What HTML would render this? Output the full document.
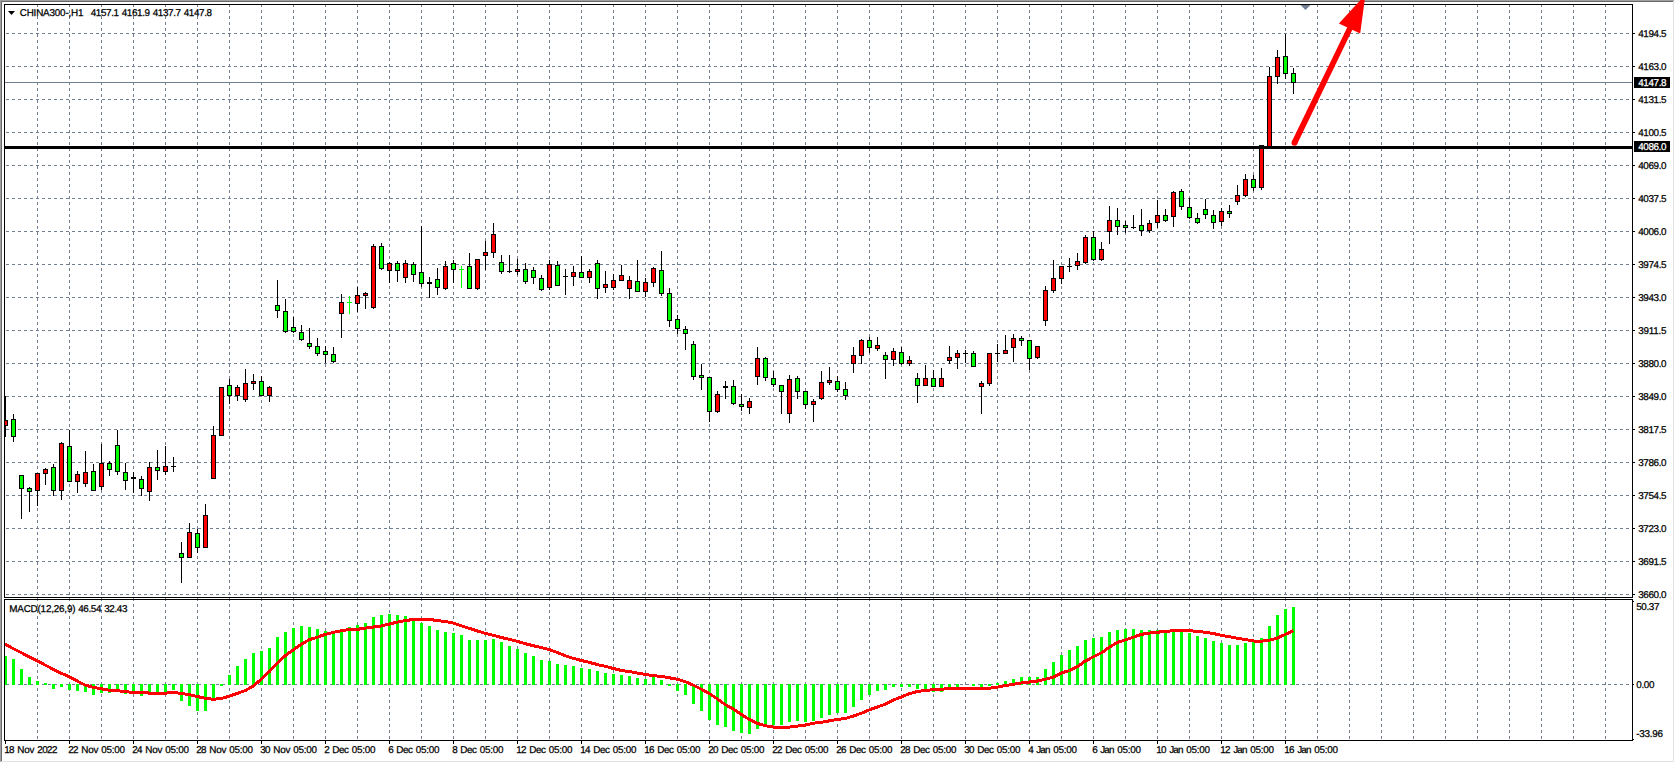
<!DOCTYPE html>
<html lang="en"><head><meta charset="utf-8"><title>CHINA300-,H1</title>
<style>html,body{margin:0;padding:0;background:#fff;overflow:hidden}svg{display:block}text{text-rendering:geometricPrecision;font-family:"Liberation Sans",sans-serif;font-size:9.9px;fill:#000;stroke:#000;stroke-width:0.25px}.w{fill:#fff;stroke:#fff}</style></head><body>
<svg width="1675" height="763" viewBox="0 0 1675 763">
<rect width="1675" height="763" fill="#fff"/>
<g shape-rendering="crispEdges">
<rect x="0" y="0" width="1674" height="1" fill="#a0a0a0"/>
<rect x="0" y="0" width="1" height="762" fill="#a0a0a0"/>
<rect x="1" y="1" width="1672" height="1" fill="#696969"/>
<rect x="1" y="1" width="1" height="760" fill="#696969"/>
<rect x="1673" y="1" width="1" height="761" fill="#e3e3e3"/>
<rect x="1" y="761" width="1673" height="1" fill="#e3e3e3"/>
<g stroke="#708090" stroke-width="1" stroke-dasharray="3 3" fill="none">
<line x1="37.5" y1="4" x2="37.5" y2="740"/>
<line x1="69.5" y1="4" x2="69.5" y2="740"/>
<line x1="101.5" y1="4" x2="101.5" y2="740"/>
<line x1="133.5" y1="4" x2="133.5" y2="740"/>
<line x1="165.5" y1="4" x2="165.5" y2="740"/>
<line x1="197.5" y1="4" x2="197.5" y2="740"/>
<line x1="229.5" y1="4" x2="229.5" y2="740"/>
<line x1="261.5" y1="4" x2="261.5" y2="740"/>
<line x1="293.5" y1="4" x2="293.5" y2="740"/>
<line x1="325.5" y1="4" x2="325.5" y2="740"/>
<line x1="357.5" y1="4" x2="357.5" y2="740"/>
<line x1="389.5" y1="4" x2="389.5" y2="740"/>
<line x1="421.5" y1="4" x2="421.5" y2="740"/>
<line x1="453.5" y1="4" x2="453.5" y2="740"/>
<line x1="485.5" y1="4" x2="485.5" y2="740"/>
<line x1="517.5" y1="4" x2="517.5" y2="740"/>
<line x1="549.5" y1="4" x2="549.5" y2="740"/>
<line x1="581.5" y1="4" x2="581.5" y2="740"/>
<line x1="613.5" y1="4" x2="613.5" y2="740"/>
<line x1="645.5" y1="4" x2="645.5" y2="740"/>
<line x1="677.5" y1="4" x2="677.5" y2="740"/>
<line x1="709.5" y1="4" x2="709.5" y2="740"/>
<line x1="741.5" y1="4" x2="741.5" y2="740"/>
<line x1="773.5" y1="4" x2="773.5" y2="740"/>
<line x1="805.5" y1="4" x2="805.5" y2="740"/>
<line x1="837.5" y1="4" x2="837.5" y2="740"/>
<line x1="869.5" y1="4" x2="869.5" y2="740"/>
<line x1="901.5" y1="4" x2="901.5" y2="740"/>
<line x1="933.5" y1="4" x2="933.5" y2="740"/>
<line x1="965.5" y1="4" x2="965.5" y2="740"/>
<line x1="997.5" y1="4" x2="997.5" y2="740"/>
<line x1="1029.5" y1="4" x2="1029.5" y2="740"/>
<line x1="1061.5" y1="4" x2="1061.5" y2="740"/>
<line x1="1093.5" y1="4" x2="1093.5" y2="740"/>
<line x1="1125.5" y1="4" x2="1125.5" y2="740"/>
<line x1="1157.5" y1="4" x2="1157.5" y2="740"/>
<line x1="1189.5" y1="4" x2="1189.5" y2="740"/>
<line x1="1221.5" y1="4" x2="1221.5" y2="740"/>
<line x1="1253.5" y1="4" x2="1253.5" y2="740"/>
<line x1="1285.5" y1="4" x2="1285.5" y2="740"/>
<line x1="1317.5" y1="4" x2="1317.5" y2="740"/>
<line x1="1349.5" y1="4" x2="1349.5" y2="740"/>
<line x1="1381.5" y1="4" x2="1381.5" y2="740"/>
<line x1="1413.5" y1="4" x2="1413.5" y2="740"/>
<line x1="1445.5" y1="4" x2="1445.5" y2="740"/>
<line x1="1477.5" y1="4" x2="1477.5" y2="740"/>
<line x1="1509.5" y1="4" x2="1509.5" y2="740"/>
<line x1="1541.5" y1="4" x2="1541.5" y2="740"/>
<line x1="1573.5" y1="4" x2="1573.5" y2="740"/>
<line x1="1605.5" y1="4" x2="1605.5" y2="740"/>
<line x1="6" y1="33.5" x2="1632" y2="33.5"/>
<line x1="6" y1="66.5" x2="1632" y2="66.5"/>
<line x1="6" y1="99.5" x2="1632" y2="99.5"/>
<line x1="6" y1="132.5" x2="1632" y2="132.5"/>
<line x1="6" y1="165.5" x2="1632" y2="165.5"/>
<line x1="6" y1="198.5" x2="1632" y2="198.5"/>
<line x1="6" y1="231.5" x2="1632" y2="231.5"/>
<line x1="6" y1="264.5" x2="1632" y2="264.5"/>
<line x1="6" y1="297.5" x2="1632" y2="297.5"/>
<line x1="6" y1="330.5" x2="1632" y2="330.5"/>
<line x1="6" y1="363.5" x2="1632" y2="363.5"/>
<line x1="6" y1="396.5" x2="1632" y2="396.5"/>
<line x1="6" y1="429.5" x2="1632" y2="429.5"/>
<line x1="6" y1="462.5" x2="1632" y2="462.5"/>
<line x1="6" y1="495.5" x2="1632" y2="495.5"/>
<line x1="6" y1="528.5" x2="1632" y2="528.5"/>
<line x1="6" y1="561.5" x2="1632" y2="561.5"/>
<line x1="6" y1="594.5" x2="1632" y2="594.5"/>
<line x1="6" y1="684.5" x2="1632" y2="684.5"/>
</g>
<rect x="5" y="82" width="1627" height="1" fill="#708090"/>
<polygon points="1300.5,5 1310.5,5 1305.5,10" fill="#708090" shape-rendering="auto"/>
<rect x="5" y="396" width="1" height="41" fill="#000"/>
<rect x="5" y="420" width="3" height="6" fill="#000"/>
<rect x="5" y="421" width="2" height="4" fill="#ff0000"/>
<rect x="13" y="414" width="1" height="28" fill="#000"/>
<rect x="11" y="419" width="5" height="18" fill="#000"/>
<rect x="12" y="420" width="3" height="16" fill="#00ff00"/>
<rect x="21" y="475" width="1" height="44" fill="#000"/>
<rect x="19" y="475" width="5" height="14" fill="#000"/>
<rect x="20" y="476" width="3" height="12" fill="#00ff00"/>
<rect x="29" y="487" width="1" height="25" fill="#000"/>
<rect x="27" y="488" width="5" height="4" fill="#000"/>
<rect x="28" y="489" width="3" height="2" fill="#00ff00"/>
<rect x="37" y="473" width="1" height="33" fill="#000"/>
<rect x="35" y="473" width="5" height="18" fill="#000"/>
<rect x="36" y="474" width="3" height="16" fill="#ff0000"/>
<rect x="45" y="468" width="1" height="17" fill="#000"/>
<rect x="43" y="469" width="5" height="5" fill="#000"/>
<rect x="44" y="470" width="3" height="3" fill="#ff0000"/>
<rect x="53" y="464" width="1" height="32" fill="#000"/>
<rect x="51" y="467" width="5" height="24" fill="#000"/>
<rect x="52" y="468" width="3" height="22" fill="#00ff00"/>
<rect x="61" y="442" width="1" height="58" fill="#000"/>
<rect x="59" y="443" width="5" height="48" fill="#000"/>
<rect x="60" y="444" width="3" height="46" fill="#ff0000"/>
<rect x="69" y="430" width="1" height="52" fill="#000"/>
<rect x="67" y="446" width="5" height="36" fill="#000"/>
<rect x="68" y="447" width="3" height="34" fill="#00ff00"/>
<rect x="77" y="471" width="1" height="22" fill="#000"/>
<rect x="75" y="474" width="5" height="8" fill="#000"/>
<rect x="76" y="475" width="3" height="6" fill="#ff0000"/>
<rect x="85" y="451" width="1" height="36" fill="#000"/>
<rect x="83" y="472" width="5" height="12" fill="#000"/>
<rect x="84" y="473" width="3" height="10" fill="#ff0000"/>
<rect x="93" y="464" width="1" height="27" fill="#000"/>
<rect x="91" y="471" width="5" height="20" fill="#000"/>
<rect x="92" y="472" width="3" height="18" fill="#00ff00"/>
<rect x="101" y="444" width="1" height="46" fill="#000"/>
<rect x="99" y="463" width="5" height="24" fill="#000"/>
<rect x="100" y="464" width="3" height="22" fill="#ff0000"/>
<rect x="109" y="461" width="1" height="15" fill="#000"/>
<rect x="107" y="463" width="5" height="7" fill="#000"/>
<rect x="108" y="464" width="3" height="5" fill="#00ff00"/>
<rect x="117" y="430" width="1" height="45" fill="#000"/>
<rect x="115" y="445" width="5" height="27" fill="#000"/>
<rect x="116" y="446" width="3" height="25" fill="#00ff00"/>
<rect x="125" y="463" width="1" height="27" fill="#000"/>
<rect x="123" y="472" width="5" height="9" fill="#000"/>
<rect x="124" y="473" width="3" height="7" fill="#00ff00"/>
<rect x="133" y="472" width="1" height="21" fill="#000"/>
<rect x="131" y="477" width="5" height="2" fill="#000"/>
<rect x="141" y="476" width="1" height="20" fill="#000"/>
<rect x="139" y="479" width="5" height="10" fill="#000"/>
<rect x="140" y="480" width="3" height="8" fill="#00ff00"/>
<rect x="149" y="462" width="1" height="39" fill="#000"/>
<rect x="147" y="467" width="5" height="25" fill="#000"/>
<rect x="148" y="468" width="3" height="23" fill="#ff0000"/>
<rect x="157" y="450" width="1" height="30" fill="#000"/>
<rect x="155" y="467" width="5" height="4" fill="#000"/>
<rect x="156" y="468" width="3" height="2" fill="#00ff00"/>
<rect x="165" y="446" width="1" height="29" fill="#000"/>
<rect x="163" y="466" width="5" height="6" fill="#000"/>
<rect x="164" y="467" width="3" height="4" fill="#ff0000"/>
<rect x="173" y="457" width="1" height="15" fill="#000"/>
<rect x="171" y="466" width="5" height="1" fill="#000"/>
<rect x="181" y="542" width="1" height="41" fill="#000"/>
<rect x="179" y="553" width="5" height="5" fill="#000"/>
<rect x="180" y="554" width="3" height="3" fill="#00ff00"/>
<rect x="189" y="523" width="1" height="35" fill="#000"/>
<rect x="187" y="532" width="5" height="26" fill="#000"/>
<rect x="188" y="533" width="3" height="24" fill="#ff0000"/>
<rect x="197" y="529" width="1" height="24" fill="#000"/>
<rect x="195" y="533" width="5" height="15" fill="#000"/>
<rect x="196" y="534" width="3" height="13" fill="#00ff00"/>
<rect x="205" y="504" width="1" height="44" fill="#000"/>
<rect x="203" y="515" width="5" height="33" fill="#000"/>
<rect x="204" y="516" width="3" height="31" fill="#ff0000"/>
<rect x="213" y="426" width="1" height="53" fill="#000"/>
<rect x="211" y="435" width="5" height="44" fill="#000"/>
<rect x="212" y="436" width="3" height="42" fill="#ff0000"/>
<rect x="221" y="387" width="1" height="49" fill="#000"/>
<rect x="219" y="387" width="5" height="49" fill="#000"/>
<rect x="220" y="388" width="3" height="47" fill="#ff0000"/>
<rect x="229" y="379" width="1" height="25" fill="#000"/>
<rect x="227" y="385" width="5" height="11" fill="#000"/>
<rect x="228" y="386" width="3" height="9" fill="#00ff00"/>
<rect x="237" y="385" width="1" height="16" fill="#000"/>
<rect x="235" y="387" width="5" height="9" fill="#000"/>
<rect x="236" y="388" width="3" height="7" fill="#ff0000"/>
<rect x="245" y="369" width="1" height="33" fill="#000"/>
<rect x="243" y="383" width="5" height="17" fill="#000"/>
<rect x="244" y="384" width="3" height="15" fill="#ff0000"/>
<rect x="253" y="374" width="1" height="16" fill="#000"/>
<rect x="251" y="381" width="5" height="3" fill="#000"/>
<rect x="252" y="382" width="3" height="1" fill="#ff0000"/>
<rect x="261" y="376" width="1" height="20" fill="#000"/>
<rect x="259" y="381" width="5" height="15" fill="#000"/>
<rect x="260" y="382" width="3" height="13" fill="#00ff00"/>
<rect x="269" y="386" width="1" height="16" fill="#000"/>
<rect x="267" y="387" width="5" height="9" fill="#000"/>
<rect x="268" y="388" width="3" height="7" fill="#ff0000"/>
<rect x="277" y="280" width="1" height="38" fill="#000"/>
<rect x="275" y="305" width="5" height="6" fill="#000"/>
<rect x="276" y="306" width="3" height="4" fill="#00ff00"/>
<rect x="285" y="299" width="1" height="34" fill="#000"/>
<rect x="283" y="311" width="5" height="21" fill="#000"/>
<rect x="284" y="312" width="3" height="19" fill="#00ff00"/>
<rect x="293" y="317" width="1" height="16" fill="#000"/>
<rect x="291" y="327" width="5" height="5" fill="#000"/>
<rect x="292" y="328" width="3" height="3" fill="#00ff00"/>
<rect x="301" y="325" width="1" height="16" fill="#000"/>
<rect x="299" y="332" width="5" height="8" fill="#000"/>
<rect x="300" y="333" width="3" height="6" fill="#00ff00"/>
<rect x="309" y="328" width="1" height="21" fill="#000"/>
<rect x="307" y="343" width="5" height="4" fill="#000"/>
<rect x="308" y="344" width="3" height="2" fill="#00ff00"/>
<rect x="317" y="338" width="1" height="18" fill="#000"/>
<rect x="315" y="346" width="5" height="8" fill="#000"/>
<rect x="316" y="347" width="3" height="6" fill="#00ff00"/>
<rect x="325" y="346" width="1" height="17" fill="#000"/>
<rect x="323" y="351" width="5" height="4" fill="#000"/>
<rect x="324" y="352" width="3" height="2" fill="#00ff00"/>
<rect x="333" y="347" width="1" height="16" fill="#000"/>
<rect x="331" y="354" width="5" height="8" fill="#000"/>
<rect x="332" y="355" width="3" height="6" fill="#00ff00"/>
<rect x="341" y="294" width="1" height="44" fill="#000"/>
<rect x="339" y="302" width="5" height="12" fill="#000"/>
<rect x="340" y="303" width="3" height="10" fill="#ff0000"/>
<rect x="349" y="296" width="1" height="18" fill="#00ff00"/>
<rect x="347" y="302" width="5" height="1" fill="#00ff00"/>
<rect x="357" y="287" width="1" height="25" fill="#000"/>
<rect x="355" y="295" width="5" height="9" fill="#000"/>
<rect x="356" y="296" width="3" height="7" fill="#ff0000"/>
<rect x="365" y="292" width="1" height="17" fill="#000"/>
<rect x="363" y="293" width="5" height="3" fill="#000"/>
<rect x="364" y="294" width="3" height="1" fill="#ff0000"/>
<rect x="373" y="244" width="1" height="65" fill="#000"/>
<rect x="371" y="246" width="5" height="62" fill="#000"/>
<rect x="372" y="247" width="3" height="60" fill="#ff0000"/>
<rect x="381" y="243" width="1" height="27" fill="#000"/>
<rect x="379" y="246" width="5" height="23" fill="#000"/>
<rect x="380" y="247" width="3" height="21" fill="#00ff00"/>
<rect x="389" y="262" width="1" height="21" fill="#000"/>
<rect x="387" y="263" width="5" height="8" fill="#000"/>
<rect x="388" y="264" width="3" height="6" fill="#ff0000"/>
<rect x="397" y="261" width="1" height="21" fill="#000"/>
<rect x="395" y="263" width="5" height="8" fill="#000"/>
<rect x="396" y="264" width="3" height="6" fill="#00ff00"/>
<rect x="405" y="260" width="1" height="23" fill="#000"/>
<rect x="403" y="263" width="5" height="15" fill="#000"/>
<rect x="404" y="264" width="3" height="13" fill="#ff0000"/>
<rect x="413" y="262" width="1" height="20" fill="#000"/>
<rect x="411" y="264" width="5" height="11" fill="#000"/>
<rect x="412" y="265" width="3" height="9" fill="#00ff00"/>
<rect x="421" y="226" width="1" height="61" fill="#000"/>
<rect x="419" y="272" width="5" height="12" fill="#000"/>
<rect x="420" y="273" width="3" height="10" fill="#00ff00"/>
<rect x="429" y="277" width="1" height="21" fill="#000"/>
<rect x="427" y="282" width="5" height="2" fill="#000"/>
<rect x="437" y="268" width="1" height="27" fill="#000"/>
<rect x="435" y="279" width="5" height="9" fill="#000"/>
<rect x="436" y="280" width="3" height="7" fill="#00ff00"/>
<rect x="445" y="261" width="1" height="29" fill="#000"/>
<rect x="443" y="266" width="5" height="23" fill="#000"/>
<rect x="444" y="267" width="3" height="21" fill="#ff0000"/>
<rect x="453" y="260" width="1" height="23" fill="#000"/>
<rect x="451" y="263" width="5" height="7" fill="#000"/>
<rect x="452" y="264" width="3" height="5" fill="#00ff00"/>
<rect x="461" y="266" width="1" height="22" fill="#00ff00"/>
<rect x="459" y="269" width="5" height="1" fill="#00ff00"/>
<rect x="469" y="253" width="1" height="36" fill="#000"/>
<rect x="467" y="266" width="5" height="23" fill="#000"/>
<rect x="468" y="267" width="3" height="21" fill="#00ff00"/>
<rect x="477" y="259" width="1" height="31" fill="#000"/>
<rect x="475" y="259" width="5" height="30" fill="#000"/>
<rect x="476" y="260" width="3" height="28" fill="#ff0000"/>
<rect x="485" y="241" width="1" height="29" fill="#000"/>
<rect x="483" y="252" width="5" height="4" fill="#000"/>
<rect x="484" y="253" width="3" height="2" fill="#ff0000"/>
<rect x="493" y="223" width="1" height="35" fill="#000"/>
<rect x="491" y="234" width="5" height="19" fill="#000"/>
<rect x="492" y="235" width="3" height="17" fill="#ff0000"/>
<rect x="501" y="255" width="1" height="19" fill="#000"/>
<rect x="499" y="262" width="5" height="10" fill="#000"/>
<rect x="500" y="263" width="3" height="8" fill="#00ff00"/>
<rect x="509" y="255" width="1" height="18" fill="#000"/>
<rect x="507" y="271" width="5" height="1" fill="#000"/>
<rect x="517" y="259" width="1" height="16" fill="#000"/>
<rect x="515" y="269" width="5" height="3" fill="#000"/>
<rect x="516" y="270" width="3" height="1" fill="#ff0000"/>
<rect x="525" y="263" width="1" height="21" fill="#000"/>
<rect x="523" y="269" width="5" height="13" fill="#000"/>
<rect x="524" y="270" width="3" height="11" fill="#00ff00"/>
<rect x="533" y="267" width="1" height="17" fill="#000"/>
<rect x="531" y="270" width="5" height="8" fill="#000"/>
<rect x="532" y="271" width="3" height="6" fill="#00ff00"/>
<rect x="541" y="275" width="1" height="16" fill="#000"/>
<rect x="539" y="278" width="5" height="12" fill="#000"/>
<rect x="540" y="279" width="3" height="10" fill="#00ff00"/>
<rect x="549" y="260" width="1" height="30" fill="#000"/>
<rect x="547" y="264" width="5" height="24" fill="#000"/>
<rect x="548" y="265" width="3" height="22" fill="#ff0000"/>
<rect x="557" y="261" width="1" height="25" fill="#000"/>
<rect x="555" y="265" width="5" height="21" fill="#000"/>
<rect x="556" y="266" width="3" height="19" fill="#00ff00"/>
<rect x="565" y="269" width="1" height="26" fill="#000"/>
<rect x="563" y="276" width="5" height="1" fill="#000"/>
<rect x="573" y="266" width="1" height="20" fill="#000"/>
<rect x="571" y="272" width="5" height="5" fill="#000"/>
<rect x="572" y="273" width="3" height="3" fill="#ff0000"/>
<rect x="581" y="256" width="1" height="22" fill="#000"/>
<rect x="579" y="272" width="5" height="6" fill="#000"/>
<rect x="580" y="273" width="3" height="4" fill="#00ff00"/>
<rect x="589" y="269" width="1" height="14" fill="#000"/>
<rect x="587" y="271" width="5" height="7" fill="#000"/>
<rect x="588" y="272" width="3" height="5" fill="#ff0000"/>
<rect x="597" y="260" width="1" height="39" fill="#000"/>
<rect x="595" y="263" width="5" height="26" fill="#000"/>
<rect x="596" y="264" width="3" height="24" fill="#00ff00"/>
<rect x="605" y="271" width="1" height="22" fill="#000"/>
<rect x="603" y="284" width="5" height="4" fill="#000"/>
<rect x="604" y="285" width="3" height="2" fill="#ff0000"/>
<rect x="613" y="274" width="1" height="16" fill="#000"/>
<rect x="611" y="280" width="5" height="8" fill="#000"/>
<rect x="612" y="281" width="3" height="6" fill="#ff0000"/>
<rect x="621" y="265" width="1" height="16" fill="#000"/>
<rect x="619" y="275" width="5" height="6" fill="#000"/>
<rect x="620" y="276" width="3" height="4" fill="#ff0000"/>
<rect x="629" y="276" width="1" height="23" fill="#000"/>
<rect x="627" y="280" width="5" height="9" fill="#000"/>
<rect x="628" y="281" width="3" height="7" fill="#ff0000"/>
<rect x="637" y="260" width="1" height="32" fill="#000"/>
<rect x="635" y="281" width="5" height="11" fill="#000"/>
<rect x="636" y="282" width="3" height="9" fill="#00ff00"/>
<rect x="645" y="278" width="1" height="19" fill="#000"/>
<rect x="643" y="282" width="5" height="10" fill="#000"/>
<rect x="644" y="283" width="3" height="8" fill="#ff0000"/>
<rect x="653" y="267" width="1" height="20" fill="#000"/>
<rect x="651" y="268" width="5" height="15" fill="#000"/>
<rect x="652" y="269" width="3" height="13" fill="#ff0000"/>
<rect x="661" y="251" width="1" height="45" fill="#000"/>
<rect x="659" y="270" width="5" height="24" fill="#000"/>
<rect x="660" y="271" width="3" height="22" fill="#00ff00"/>
<rect x="669" y="288" width="1" height="39" fill="#000"/>
<rect x="667" y="293" width="5" height="28" fill="#000"/>
<rect x="668" y="294" width="3" height="26" fill="#00ff00"/>
<rect x="677" y="315" width="1" height="19" fill="#000"/>
<rect x="675" y="319" width="5" height="10" fill="#000"/>
<rect x="676" y="320" width="3" height="8" fill="#00ff00"/>
<rect x="685" y="326" width="1" height="24" fill="#000"/>
<rect x="683" y="329" width="5" height="5" fill="#000"/>
<rect x="684" y="330" width="3" height="3" fill="#00ff00"/>
<rect x="693" y="341" width="1" height="39" fill="#000"/>
<rect x="691" y="344" width="5" height="33" fill="#000"/>
<rect x="692" y="345" width="3" height="31" fill="#00ff00"/>
<rect x="701" y="364" width="1" height="26" fill="#000"/>
<rect x="699" y="375" width="5" height="3" fill="#000"/>
<rect x="700" y="376" width="3" height="1" fill="#00ff00"/>
<rect x="709" y="377" width="1" height="45" fill="#000"/>
<rect x="707" y="377" width="5" height="35" fill="#000"/>
<rect x="708" y="378" width="3" height="33" fill="#00ff00"/>
<rect x="717" y="391" width="1" height="22" fill="#000"/>
<rect x="715" y="394" width="5" height="18" fill="#000"/>
<rect x="716" y="395" width="3" height="16" fill="#ff0000"/>
<rect x="725" y="381" width="1" height="18" fill="#000"/>
<rect x="723" y="386" width="5" height="2" fill="#000"/>
<rect x="733" y="380" width="1" height="25" fill="#000"/>
<rect x="731" y="386" width="5" height="18" fill="#000"/>
<rect x="732" y="387" width="3" height="16" fill="#00ff00"/>
<rect x="741" y="394" width="1" height="17" fill="#000"/>
<rect x="739" y="404" width="5" height="3" fill="#000"/>
<rect x="740" y="405" width="3" height="1" fill="#00ff00"/>
<rect x="749" y="398" width="1" height="16" fill="#000"/>
<rect x="747" y="401" width="5" height="7" fill="#000"/>
<rect x="748" y="402" width="3" height="5" fill="#ff0000"/>
<rect x="757" y="347" width="1" height="38" fill="#000"/>
<rect x="755" y="358" width="5" height="19" fill="#000"/>
<rect x="756" y="359" width="3" height="17" fill="#ff0000"/>
<rect x="765" y="357" width="1" height="24" fill="#000"/>
<rect x="763" y="358" width="5" height="20" fill="#000"/>
<rect x="764" y="359" width="3" height="18" fill="#00ff00"/>
<rect x="773" y="371" width="1" height="16" fill="#000"/>
<rect x="771" y="378" width="5" height="7" fill="#000"/>
<rect x="772" y="379" width="3" height="5" fill="#00ff00"/>
<rect x="781" y="385" width="1" height="29" fill="#000"/>
<rect x="779" y="385" width="5" height="7" fill="#000"/>
<rect x="780" y="386" width="3" height="5" fill="#00ff00"/>
<rect x="789" y="375" width="1" height="48" fill="#000"/>
<rect x="787" y="379" width="5" height="35" fill="#000"/>
<rect x="788" y="380" width="3" height="33" fill="#ff0000"/>
<rect x="797" y="376" width="1" height="23" fill="#000"/>
<rect x="795" y="378" width="5" height="14" fill="#000"/>
<rect x="796" y="379" width="3" height="12" fill="#00ff00"/>
<rect x="805" y="391" width="1" height="18" fill="#000"/>
<rect x="803" y="391" width="5" height="14" fill="#000"/>
<rect x="804" y="392" width="3" height="12" fill="#00ff00"/>
<rect x="813" y="399" width="1" height="23" fill="#000"/>
<rect x="811" y="401" width="5" height="4" fill="#000"/>
<rect x="812" y="402" width="3" height="2" fill="#ff0000"/>
<rect x="821" y="371" width="1" height="29" fill="#000"/>
<rect x="819" y="382" width="5" height="17" fill="#000"/>
<rect x="820" y="383" width="3" height="15" fill="#ff0000"/>
<rect x="829" y="367" width="1" height="18" fill="#000"/>
<rect x="827" y="380" width="5" height="3" fill="#000"/>
<rect x="828" y="381" width="3" height="1" fill="#ff0000"/>
<rect x="837" y="376" width="1" height="16" fill="#000"/>
<rect x="835" y="381" width="5" height="9" fill="#000"/>
<rect x="836" y="382" width="3" height="7" fill="#00ff00"/>
<rect x="845" y="382" width="1" height="18" fill="#000"/>
<rect x="843" y="389" width="5" height="7" fill="#000"/>
<rect x="844" y="390" width="3" height="5" fill="#00ff00"/>
<rect x="853" y="347" width="1" height="26" fill="#000"/>
<rect x="851" y="355" width="5" height="9" fill="#000"/>
<rect x="852" y="356" width="3" height="7" fill="#ff0000"/>
<rect x="861" y="339" width="1" height="25" fill="#000"/>
<rect x="859" y="340" width="5" height="16" fill="#000"/>
<rect x="860" y="341" width="3" height="14" fill="#ff0000"/>
<rect x="869" y="337" width="1" height="16" fill="#000"/>
<rect x="867" y="340" width="5" height="8" fill="#000"/>
<rect x="868" y="341" width="3" height="6" fill="#00ff00"/>
<rect x="877" y="337" width="1" height="14" fill="#000"/>
<rect x="875" y="345" width="5" height="4" fill="#000"/>
<rect x="876" y="346" width="3" height="2" fill="#ff0000"/>
<rect x="885" y="352" width="1" height="27" fill="#000"/>
<rect x="883" y="355" width="5" height="5" fill="#000"/>
<rect x="884" y="356" width="3" height="3" fill="#00ff00"/>
<rect x="893" y="348" width="1" height="18" fill="#000"/>
<rect x="891" y="351" width="5" height="9" fill="#000"/>
<rect x="892" y="352" width="3" height="7" fill="#ff0000"/>
<rect x="901" y="347" width="1" height="18" fill="#000"/>
<rect x="899" y="352" width="5" height="12" fill="#000"/>
<rect x="900" y="353" width="3" height="10" fill="#00ff00"/>
<rect x="909" y="356" width="1" height="10" fill="#000"/>
<rect x="907" y="360" width="5" height="4" fill="#000"/>
<rect x="908" y="361" width="3" height="2" fill="#ff0000"/>
<rect x="917" y="373" width="1" height="30" fill="#000"/>
<rect x="915" y="378" width="5" height="8" fill="#000"/>
<rect x="916" y="379" width="3" height="6" fill="#00ff00"/>
<rect x="925" y="365" width="1" height="21" fill="#000"/>
<rect x="923" y="378" width="5" height="8" fill="#000"/>
<rect x="924" y="379" width="3" height="6" fill="#ff0000"/>
<rect x="933" y="370" width="1" height="17" fill="#000"/>
<rect x="931" y="378" width="5" height="9" fill="#000"/>
<rect x="932" y="379" width="3" height="7" fill="#00ff00"/>
<rect x="941" y="368" width="1" height="19" fill="#000"/>
<rect x="939" y="378" width="5" height="9" fill="#000"/>
<rect x="940" y="379" width="3" height="7" fill="#ff0000"/>
<rect x="949" y="346" width="1" height="18" fill="#000"/>
<rect x="947" y="357" width="5" height="4" fill="#000"/>
<rect x="948" y="358" width="3" height="2" fill="#ff0000"/>
<rect x="957" y="350" width="1" height="19" fill="#000"/>
<rect x="955" y="353" width="5" height="5" fill="#000"/>
<rect x="956" y="354" width="3" height="3" fill="#ff0000"/>
<rect x="965" y="350" width="1" height="13" fill="#000"/>
<rect x="963" y="353" width="5" height="1" fill="#000"/>
<rect x="973" y="351" width="1" height="16" fill="#000"/>
<rect x="971" y="353" width="5" height="14" fill="#000"/>
<rect x="972" y="354" width="3" height="12" fill="#00ff00"/>
<rect x="981" y="381" width="1" height="33" fill="#000"/>
<rect x="979" y="383" width="5" height="4" fill="#000"/>
<rect x="980" y="384" width="3" height="2" fill="#ff0000"/>
<rect x="989" y="353" width="1" height="33" fill="#000"/>
<rect x="987" y="353" width="5" height="31" fill="#000"/>
<rect x="988" y="354" width="3" height="29" fill="#ff0000"/>
<rect x="997" y="344" width="1" height="18" fill="#000"/>
<rect x="995" y="353" width="5" height="1" fill="#000"/>
<rect x="1005" y="335" width="1" height="19" fill="#000"/>
<rect x="1003" y="350" width="5" height="4" fill="#000"/>
<rect x="1004" y="351" width="3" height="2" fill="#ff0000"/>
<rect x="1013" y="334" width="1" height="28" fill="#000"/>
<rect x="1011" y="338" width="5" height="10" fill="#000"/>
<rect x="1012" y="339" width="3" height="8" fill="#ff0000"/>
<rect x="1021" y="336" width="1" height="10" fill="#000"/>
<rect x="1019" y="338" width="5" height="3" fill="#000"/>
<rect x="1020" y="339" width="3" height="1" fill="#00ff00"/>
<rect x="1029" y="340" width="1" height="30" fill="#000"/>
<rect x="1027" y="340" width="5" height="19" fill="#000"/>
<rect x="1028" y="341" width="3" height="17" fill="#00ff00"/>
<rect x="1037" y="346" width="1" height="13" fill="#000"/>
<rect x="1035" y="346" width="5" height="12" fill="#000"/>
<rect x="1036" y="347" width="3" height="10" fill="#ff0000"/>
<rect x="1045" y="286" width="1" height="40" fill="#000"/>
<rect x="1043" y="290" width="5" height="31" fill="#000"/>
<rect x="1044" y="291" width="3" height="29" fill="#ff0000"/>
<rect x="1053" y="260" width="1" height="33" fill="#000"/>
<rect x="1051" y="278" width="5" height="13" fill="#000"/>
<rect x="1052" y="279" width="3" height="11" fill="#ff0000"/>
<rect x="1061" y="266" width="1" height="18" fill="#000"/>
<rect x="1059" y="266" width="5" height="13" fill="#000"/>
<rect x="1060" y="267" width="3" height="11" fill="#ff0000"/>
<rect x="1069" y="258" width="1" height="14" fill="#000"/>
<rect x="1067" y="266" width="5" height="1" fill="#000"/>
<rect x="1077" y="253" width="1" height="17" fill="#000"/>
<rect x="1075" y="261" width="5" height="5" fill="#000"/>
<rect x="1076" y="262" width="3" height="3" fill="#ff0000"/>
<rect x="1085" y="235" width="1" height="29" fill="#000"/>
<rect x="1083" y="237" width="5" height="26" fill="#000"/>
<rect x="1084" y="238" width="3" height="24" fill="#ff0000"/>
<rect x="1093" y="231" width="1" height="30" fill="#000"/>
<rect x="1091" y="237" width="5" height="23" fill="#000"/>
<rect x="1092" y="238" width="3" height="21" fill="#00ff00"/>
<rect x="1101" y="242" width="1" height="19" fill="#000"/>
<rect x="1099" y="249" width="5" height="11" fill="#000"/>
<rect x="1100" y="250" width="3" height="9" fill="#ff0000"/>
<rect x="1109" y="206" width="1" height="38" fill="#000"/>
<rect x="1107" y="220" width="5" height="12" fill="#000"/>
<rect x="1108" y="221" width="3" height="10" fill="#ff0000"/>
<rect x="1117" y="208" width="1" height="27" fill="#000"/>
<rect x="1115" y="220" width="5" height="7" fill="#000"/>
<rect x="1116" y="221" width="3" height="5" fill="#00ff00"/>
<rect x="1125" y="221" width="1" height="12" fill="#000"/>
<rect x="1123" y="225" width="5" height="3" fill="#000"/>
<rect x="1124" y="226" width="3" height="1" fill="#00ff00"/>
<rect x="1133" y="215" width="1" height="14" fill="#000"/>
<rect x="1131" y="227" width="5" height="1" fill="#000"/>
<rect x="1141" y="209" width="1" height="27" fill="#000"/>
<rect x="1139" y="225" width="5" height="6" fill="#000"/>
<rect x="1140" y="226" width="3" height="4" fill="#00ff00"/>
<rect x="1149" y="220" width="1" height="13" fill="#000"/>
<rect x="1147" y="223" width="5" height="8" fill="#000"/>
<rect x="1148" y="224" width="3" height="6" fill="#ff0000"/>
<rect x="1157" y="200" width="1" height="28" fill="#000"/>
<rect x="1155" y="215" width="5" height="8" fill="#000"/>
<rect x="1156" y="216" width="3" height="6" fill="#ff0000"/>
<rect x="1165" y="209" width="1" height="13" fill="#000"/>
<rect x="1163" y="215" width="5" height="6" fill="#000"/>
<rect x="1164" y="216" width="3" height="4" fill="#00ff00"/>
<rect x="1173" y="191" width="1" height="36" fill="#000"/>
<rect x="1171" y="192" width="5" height="25" fill="#000"/>
<rect x="1172" y="193" width="3" height="23" fill="#ff0000"/>
<rect x="1181" y="189" width="1" height="21" fill="#000"/>
<rect x="1179" y="191" width="5" height="16" fill="#000"/>
<rect x="1180" y="192" width="3" height="14" fill="#00ff00"/>
<rect x="1189" y="198" width="1" height="21" fill="#000"/>
<rect x="1187" y="207" width="5" height="11" fill="#000"/>
<rect x="1188" y="208" width="3" height="9" fill="#00ff00"/>
<rect x="1197" y="213" width="1" height="11" fill="#000"/>
<rect x="1195" y="218" width="5" height="5" fill="#000"/>
<rect x="1196" y="219" width="3" height="3" fill="#00ff00"/>
<rect x="1205" y="199" width="1" height="20" fill="#000"/>
<rect x="1203" y="209" width="5" height="6" fill="#000"/>
<rect x="1204" y="210" width="3" height="4" fill="#00ff00"/>
<rect x="1213" y="210" width="1" height="19" fill="#000"/>
<rect x="1211" y="215" width="5" height="8" fill="#000"/>
<rect x="1212" y="216" width="3" height="6" fill="#00ff00"/>
<rect x="1221" y="208" width="1" height="18" fill="#000"/>
<rect x="1219" y="211" width="5" height="11" fill="#000"/>
<rect x="1220" y="212" width="3" height="9" fill="#ff0000"/>
<rect x="1229" y="205" width="1" height="13" fill="#000"/>
<rect x="1227" y="211" width="5" height="3" fill="#000"/>
<rect x="1228" y="212" width="3" height="1" fill="#00ff00"/>
<rect x="1237" y="185" width="1" height="20" fill="#000"/>
<rect x="1235" y="195" width="5" height="7" fill="#000"/>
<rect x="1236" y="196" width="3" height="5" fill="#ff0000"/>
<rect x="1245" y="174" width="1" height="23" fill="#000"/>
<rect x="1243" y="179" width="5" height="17" fill="#000"/>
<rect x="1244" y="180" width="3" height="15" fill="#ff0000"/>
<rect x="1253" y="175" width="1" height="16" fill="#000"/>
<rect x="1251" y="179" width="5" height="9" fill="#000"/>
<rect x="1252" y="180" width="3" height="7" fill="#00ff00"/>
<rect x="1261" y="145" width="1" height="45" fill="#000"/>
<rect x="1259" y="145" width="5" height="43" fill="#000"/>
<rect x="1260" y="146" width="3" height="41" fill="#ff0000"/>
<rect x="1269" y="67" width="1" height="80" fill="#000"/>
<rect x="1267" y="76" width="5" height="71" fill="#000"/>
<rect x="1268" y="77" width="3" height="69" fill="#ff0000"/>
<rect x="1277" y="50" width="1" height="34" fill="#000"/>
<rect x="1275" y="57" width="5" height="20" fill="#000"/>
<rect x="1276" y="58" width="3" height="18" fill="#ff0000"/>
<rect x="1285" y="34" width="1" height="45" fill="#000"/>
<rect x="1283" y="56" width="5" height="18" fill="#000"/>
<rect x="1284" y="57" width="3" height="16" fill="#00ff00"/>
<rect x="1293" y="68" width="1" height="26" fill="#000"/>
<rect x="1291" y="73" width="5" height="10" fill="#000"/>
<rect x="1292" y="74" width="3" height="8" fill="#00ff00"/>
<rect x="5" y="146" width="1627" height="3" fill="#000"/>
<rect x="5" y="656" width="2" height="29" fill="#00ff00"/>
<rect x="12" y="659" width="3" height="26" fill="#00ff00"/>
<rect x="20" y="669" width="3" height="16" fill="#00ff00"/>
<rect x="28" y="677" width="3" height="8" fill="#00ff00"/>
<rect x="36" y="681" width="3" height="4" fill="#00ff00"/>
<rect x="44" y="683" width="3" height="2" fill="#00ff00"/>
<rect x="52" y="684" width="3" height="5" fill="#00ff00"/>
<rect x="60" y="684" width="3" height="3" fill="#00ff00"/>
<rect x="68" y="684" width="3" height="6" fill="#00ff00"/>
<rect x="76" y="684" width="3" height="7" fill="#00ff00"/>
<rect x="84" y="684" width="3" height="8" fill="#00ff00"/>
<rect x="92" y="684" width="3" height="11" fill="#00ff00"/>
<rect x="100" y="684" width="3" height="9" fill="#00ff00"/>
<rect x="108" y="684" width="3" height="9" fill="#00ff00"/>
<rect x="116" y="684" width="3" height="8" fill="#00ff00"/>
<rect x="124" y="684" width="3" height="10" fill="#00ff00"/>
<rect x="132" y="684" width="3" height="10" fill="#00ff00"/>
<rect x="140" y="684" width="3" height="12" fill="#00ff00"/>
<rect x="148" y="684" width="3" height="10" fill="#00ff00"/>
<rect x="156" y="684" width="3" height="10" fill="#00ff00"/>
<rect x="164" y="684" width="3" height="9" fill="#00ff00"/>
<rect x="172" y="684" width="3" height="6" fill="#00ff00"/>
<rect x="180" y="684" width="3" height="17" fill="#00ff00"/>
<rect x="188" y="684" width="3" height="22" fill="#00ff00"/>
<rect x="196" y="684" width="3" height="27" fill="#00ff00"/>
<rect x="204" y="684" width="3" height="27" fill="#00ff00"/>
<rect x="212" y="684" width="3" height="14" fill="#00ff00"/>
<rect x="220" y="684" width="3" height="2" fill="#00ff00"/>
<rect x="228" y="675" width="3" height="10" fill="#00ff00"/>
<rect x="236" y="666" width="3" height="19" fill="#00ff00"/>
<rect x="244" y="659" width="3" height="26" fill="#00ff00"/>
<rect x="252" y="653" width="3" height="32" fill="#00ff00"/>
<rect x="260" y="651" width="3" height="34" fill="#00ff00"/>
<rect x="268" y="648" width="3" height="37" fill="#00ff00"/>
<rect x="276" y="637" width="3" height="48" fill="#00ff00"/>
<rect x="284" y="632" width="3" height="53" fill="#00ff00"/>
<rect x="292" y="628" width="3" height="57" fill="#00ff00"/>
<rect x="300" y="626" width="3" height="59" fill="#00ff00"/>
<rect x="308" y="627" width="3" height="58" fill="#00ff00"/>
<rect x="316" y="629" width="3" height="56" fill="#00ff00"/>
<rect x="324" y="631" width="3" height="54" fill="#00ff00"/>
<rect x="332" y="632" width="3" height="53" fill="#00ff00"/>
<rect x="340" y="630" width="3" height="55" fill="#00ff00"/>
<rect x="348" y="627" width="3" height="58" fill="#00ff00"/>
<rect x="356" y="625" width="3" height="60" fill="#00ff00"/>
<rect x="364" y="623" width="3" height="62" fill="#00ff00"/>
<rect x="372" y="617" width="3" height="68" fill="#00ff00"/>
<rect x="380" y="615" width="3" height="70" fill="#00ff00"/>
<rect x="388" y="614" width="3" height="71" fill="#00ff00"/>
<rect x="396" y="615" width="3" height="70" fill="#00ff00"/>
<rect x="404" y="616" width="3" height="69" fill="#00ff00"/>
<rect x="412" y="620" width="3" height="65" fill="#00ff00"/>
<rect x="420" y="623" width="3" height="62" fill="#00ff00"/>
<rect x="428" y="626" width="3" height="59" fill="#00ff00"/>
<rect x="436" y="630" width="3" height="55" fill="#00ff00"/>
<rect x="444" y="632" width="3" height="53" fill="#00ff00"/>
<rect x="452" y="633" width="3" height="52" fill="#00ff00"/>
<rect x="460" y="635" width="3" height="50" fill="#00ff00"/>
<rect x="468" y="640" width="3" height="45" fill="#00ff00"/>
<rect x="476" y="640" width="3" height="45" fill="#00ff00"/>
<rect x="484" y="640" width="3" height="45" fill="#00ff00"/>
<rect x="492" y="639" width="3" height="46" fill="#00ff00"/>
<rect x="500" y="642" width="3" height="43" fill="#00ff00"/>
<rect x="508" y="646" width="3" height="39" fill="#00ff00"/>
<rect x="516" y="649" width="3" height="36" fill="#00ff00"/>
<rect x="524" y="653" width="3" height="32" fill="#00ff00"/>
<rect x="532" y="656" width="3" height="29" fill="#00ff00"/>
<rect x="540" y="660" width="3" height="25" fill="#00ff00"/>
<rect x="548" y="661" width="3" height="24" fill="#00ff00"/>
<rect x="556" y="664" width="3" height="21" fill="#00ff00"/>
<rect x="564" y="665" width="3" height="20" fill="#00ff00"/>
<rect x="572" y="666" width="3" height="19" fill="#00ff00"/>
<rect x="580" y="668" width="3" height="17" fill="#00ff00"/>
<rect x="588" y="669" width="3" height="16" fill="#00ff00"/>
<rect x="596" y="671" width="3" height="14" fill="#00ff00"/>
<rect x="604" y="673" width="3" height="12" fill="#00ff00"/>
<rect x="612" y="674" width="3" height="11" fill="#00ff00"/>
<rect x="620" y="675" width="3" height="10" fill="#00ff00"/>
<rect x="628" y="676" width="3" height="9" fill="#00ff00"/>
<rect x="636" y="678" width="3" height="7" fill="#00ff00"/>
<rect x="644" y="679" width="3" height="6" fill="#00ff00"/>
<rect x="652" y="677" width="3" height="8" fill="#00ff00"/>
<rect x="660" y="680" width="3" height="5" fill="#00ff00"/>
<rect x="668" y="684" width="3" height="2" fill="#00ff00"/>
<rect x="676" y="684" width="3" height="7" fill="#00ff00"/>
<rect x="684" y="684" width="3" height="11" fill="#00ff00"/>
<rect x="692" y="684" width="3" height="20" fill="#00ff00"/>
<rect x="700" y="684" width="3" height="27" fill="#00ff00"/>
<rect x="708" y="684" width="3" height="36" fill="#00ff00"/>
<rect x="716" y="684" width="3" height="41" fill="#00ff00"/>
<rect x="724" y="684" width="3" height="43" fill="#00ff00"/>
<rect x="732" y="684" width="3" height="47" fill="#00ff00"/>
<rect x="740" y="684" width="3" height="49" fill="#00ff00"/>
<rect x="748" y="684" width="3" height="50" fill="#00ff00"/>
<rect x="756" y="684" width="3" height="45" fill="#00ff00"/>
<rect x="764" y="684" width="3" height="42" fill="#00ff00"/>
<rect x="772" y="684" width="3" height="41" fill="#00ff00"/>
<rect x="780" y="684" width="3" height="41" fill="#00ff00"/>
<rect x="788" y="684" width="3" height="38" fill="#00ff00"/>
<rect x="796" y="684" width="3" height="37" fill="#00ff00"/>
<rect x="804" y="684" width="3" height="38" fill="#00ff00"/>
<rect x="812" y="684" width="3" height="37" fill="#00ff00"/>
<rect x="820" y="684" width="3" height="34" fill="#00ff00"/>
<rect x="828" y="684" width="3" height="31" fill="#00ff00"/>
<rect x="836" y="684" width="3" height="29" fill="#00ff00"/>
<rect x="844" y="684" width="3" height="29" fill="#00ff00"/>
<rect x="852" y="684" width="3" height="23" fill="#00ff00"/>
<rect x="860" y="684" width="3" height="16" fill="#00ff00"/>
<rect x="868" y="684" width="3" height="11" fill="#00ff00"/>
<rect x="876" y="684" width="3" height="7" fill="#00ff00"/>
<rect x="884" y="684" width="3" height="6" fill="#00ff00"/>
<rect x="892" y="684" width="3" height="3" fill="#00ff00"/>
<rect x="900" y="684" width="3" height="3" fill="#00ff00"/>
<rect x="908" y="684" width="3" height="3" fill="#00ff00"/>
<rect x="916" y="684" width="3" height="5" fill="#00ff00"/>
<rect x="924" y="684" width="3" height="5" fill="#00ff00"/>
<rect x="932" y="684" width="3" height="8" fill="#00ff00"/>
<rect x="940" y="684" width="3" height="8" fill="#00ff00"/>
<rect x="948" y="684" width="3" height="3" fill="#00ff00"/>
<rect x="956" y="684" width="3" height="3" fill="#00ff00"/>
<rect x="972" y="684" width="3" height="2" fill="#00ff00"/>
<rect x="980" y="684" width="3" height="3" fill="#00ff00"/>
<rect x="988" y="684" width="3" height="2" fill="#00ff00"/>
<rect x="996" y="683" width="3" height="2" fill="#00ff00"/>
<rect x="1004" y="681" width="3" height="4" fill="#00ff00"/>
<rect x="1012" y="679" width="3" height="6" fill="#00ff00"/>
<rect x="1020" y="677" width="3" height="8" fill="#00ff00"/>
<rect x="1028" y="677" width="3" height="8" fill="#00ff00"/>
<rect x="1036" y="677" width="3" height="8" fill="#00ff00"/>
<rect x="1044" y="669" width="3" height="16" fill="#00ff00"/>
<rect x="1052" y="662" width="3" height="23" fill="#00ff00"/>
<rect x="1060" y="655" width="3" height="30" fill="#00ff00"/>
<rect x="1068" y="650" width="3" height="35" fill="#00ff00"/>
<rect x="1076" y="646" width="3" height="39" fill="#00ff00"/>
<rect x="1084" y="640" width="3" height="45" fill="#00ff00"/>
<rect x="1092" y="638" width="3" height="47" fill="#00ff00"/>
<rect x="1100" y="637" width="3" height="48" fill="#00ff00"/>
<rect x="1108" y="632" width="3" height="53" fill="#00ff00"/>
<rect x="1116" y="630" width="3" height="55" fill="#00ff00"/>
<rect x="1124" y="629" width="3" height="56" fill="#00ff00"/>
<rect x="1132" y="629" width="3" height="56" fill="#00ff00"/>
<rect x="1140" y="630" width="3" height="55" fill="#00ff00"/>
<rect x="1148" y="630" width="3" height="55" fill="#00ff00"/>
<rect x="1156" y="630" width="3" height="55" fill="#00ff00"/>
<rect x="1164" y="631" width="3" height="54" fill="#00ff00"/>
<rect x="1172" y="631" width="3" height="54" fill="#00ff00"/>
<rect x="1180" y="632" width="3" height="53" fill="#00ff00"/>
<rect x="1188" y="633" width="3" height="52" fill="#00ff00"/>
<rect x="1196" y="636" width="3" height="49" fill="#00ff00"/>
<rect x="1204" y="638" width="3" height="47" fill="#00ff00"/>
<rect x="1212" y="641" width="3" height="44" fill="#00ff00"/>
<rect x="1220" y="643" width="3" height="42" fill="#00ff00"/>
<rect x="1228" y="645" width="3" height="40" fill="#00ff00"/>
<rect x="1236" y="645" width="3" height="40" fill="#00ff00"/>
<rect x="1244" y="643" width="3" height="42" fill="#00ff00"/>
<rect x="1252" y="641" width="3" height="44" fill="#00ff00"/>
<rect x="1260" y="638" width="3" height="47" fill="#00ff00"/>
<rect x="1268" y="626" width="3" height="59" fill="#00ff00"/>
<rect x="1276" y="615" width="3" height="70" fill="#00ff00"/>
<rect x="1284" y="609" width="3" height="76" fill="#00ff00"/>
<rect x="1292" y="607" width="3" height="78" fill="#00ff00"/>
<clipPath id="mc"><rect x="5" y="600" width="1627" height="140"/></clipPath>
<polyline points="-2.5,640.5 5.5,644.6 13.5,648.7 21.5,652.8 29.5,656.9 37.5,661 45.5,665.2 53.5,669.4 61.5,673.4 69.5,676.8 77.5,681.2 85.5,685.2 93.5,687.4 101.5,688.8 109.5,690.3 117.5,690.7 125.5,691.7 133.5,692.4 141.5,692.4 149.5,693.1 157.5,693.1 165.5,693.2 173.5,692.3 181.5,693.5 189.5,694.7 197.5,696.6 205.5,698.4 213.5,699.3 221.5,698.5 229.5,696.2 237.5,693.3 245.5,690.5 253.5,685.8 261.5,679 269.5,671.4 277.5,663 285.5,655.5 293.5,649.7 301.5,644 309.5,639.6 317.5,637.2 325.5,634.3 333.5,632.4 341.5,630.7 349.5,629.5 357.5,629.3 365.5,628.1 373.5,627 381.5,625.9 389.5,624 397.5,622.1 405.5,620.5 413.5,619.5 421.5,619.5 429.5,619.5 437.5,620.5 445.5,621.6 453.5,623.1 461.5,625.9 469.5,628.4 477.5,631 485.5,633.4 493.5,635.3 501.5,637.5 509.5,639.4 517.5,641.4 525.5,643.7 533.5,645.8 541.5,647.6 549.5,649.7 557.5,652.6 565.5,655.9 573.5,658.4 581.5,660.5 589.5,662.4 597.5,664.6 605.5,666.4 613.5,668.5 621.5,670.5 629.5,671.6 637.5,673.1 645.5,674.5 653.5,675.7 661.5,676.4 669.5,677.8 677.5,679.3 685.5,681.7 693.5,685.3 701.5,689.3 709.5,693.7 717.5,699 725.5,704.8 733.5,709.1 741.5,714.5 749.5,719.6 757.5,723.5 765.5,725.7 773.5,727.1 781.5,727.1 789.5,727.1 797.5,726.1 805.5,725 813.5,723.2 821.5,722.3 829.5,720.8 837.5,719.4 845.5,718.5 853.5,716 861.5,713.2 869.5,709.8 877.5,707 885.5,704.1 893.5,700 901.5,696.9 909.5,693.7 917.5,691.4 925.5,690.4 933.5,689.7 941.5,689.4 949.5,688.2 957.5,688.2 965.5,688.2 973.5,688.2 981.5,688.2 989.5,688.2 997.5,687.1 1005.5,685.6 1013.5,684.2 1021.5,682.9 1029.5,682 1037.5,681 1045.5,679.2 1053.5,677.2 1061.5,673 1069.5,670.5 1077.5,666.5 1085.5,660.9 1093.5,656.8 1101.5,652.8 1109.5,647.2 1117.5,642.3 1125.5,639.9 1133.5,637.2 1141.5,634.3 1149.5,633.1 1157.5,632.2 1165.5,631.4 1173.5,630.7 1181.5,630.7 1189.5,630.7 1197.5,631.4 1205.5,632.3 1213.5,633.5 1221.5,635.4 1229.5,636.7 1237.5,638.3 1245.5,639.6 1253.5,641 1261.5,641.2 1269.5,640.2 1277.5,638 1285.5,634.3 1293.5,630.6" fill="none" stroke="#ff0000" stroke-width="3" stroke-linejoin="round" clip-path="url(#mc)"/>
<rect x="4" y="4" width="1629" height="1" fill="#000"/>
<rect x="4" y="4" width="1" height="737" fill="#000"/>
<rect x="1632" y="4" width="1" height="737" fill="#000"/>
<rect x="4" y="597" width="1629" height="1" fill="#000"/>
<rect x="4" y="598" width="1629" height="1" fill="#fff"/>
<rect x="37" y="598" width="1" height="1" fill="#708090"/>
<rect x="69" y="598" width="1" height="1" fill="#708090"/>
<rect x="101" y="598" width="1" height="1" fill="#708090"/>
<rect x="133" y="598" width="1" height="1" fill="#708090"/>
<rect x="165" y="598" width="1" height="1" fill="#708090"/>
<rect x="197" y="598" width="1" height="1" fill="#708090"/>
<rect x="229" y="598" width="1" height="1" fill="#708090"/>
<rect x="261" y="598" width="1" height="1" fill="#708090"/>
<rect x="293" y="598" width="1" height="1" fill="#708090"/>
<rect x="325" y="598" width="1" height="1" fill="#708090"/>
<rect x="357" y="598" width="1" height="1" fill="#708090"/>
<rect x="389" y="598" width="1" height="1" fill="#708090"/>
<rect x="421" y="598" width="1" height="1" fill="#708090"/>
<rect x="453" y="598" width="1" height="1" fill="#708090"/>
<rect x="485" y="598" width="1" height="1" fill="#708090"/>
<rect x="517" y="598" width="1" height="1" fill="#708090"/>
<rect x="549" y="598" width="1" height="1" fill="#708090"/>
<rect x="581" y="598" width="1" height="1" fill="#708090"/>
<rect x="613" y="598" width="1" height="1" fill="#708090"/>
<rect x="645" y="598" width="1" height="1" fill="#708090"/>
<rect x="677" y="598" width="1" height="1" fill="#708090"/>
<rect x="709" y="598" width="1" height="1" fill="#708090"/>
<rect x="741" y="598" width="1" height="1" fill="#708090"/>
<rect x="773" y="598" width="1" height="1" fill="#708090"/>
<rect x="805" y="598" width="1" height="1" fill="#708090"/>
<rect x="837" y="598" width="1" height="1" fill="#708090"/>
<rect x="869" y="598" width="1" height="1" fill="#708090"/>
<rect x="901" y="598" width="1" height="1" fill="#708090"/>
<rect x="933" y="598" width="1" height="1" fill="#708090"/>
<rect x="965" y="598" width="1" height="1" fill="#708090"/>
<rect x="997" y="598" width="1" height="1" fill="#708090"/>
<rect x="1029" y="598" width="1" height="1" fill="#708090"/>
<rect x="1061" y="598" width="1" height="1" fill="#708090"/>
<rect x="1093" y="598" width="1" height="1" fill="#708090"/>
<rect x="1125" y="598" width="1" height="1" fill="#708090"/>
<rect x="1157" y="598" width="1" height="1" fill="#708090"/>
<rect x="1189" y="598" width="1" height="1" fill="#708090"/>
<rect x="1221" y="598" width="1" height="1" fill="#708090"/>
<rect x="1253" y="598" width="1" height="1" fill="#708090"/>
<rect x="1285" y="598" width="1" height="1" fill="#708090"/>
<rect x="1317" y="598" width="1" height="1" fill="#708090"/>
<rect x="1349" y="598" width="1" height="1" fill="#708090"/>
<rect x="1381" y="598" width="1" height="1" fill="#708090"/>
<rect x="1413" y="598" width="1" height="1" fill="#708090"/>
<rect x="1445" y="598" width="1" height="1" fill="#708090"/>
<rect x="1477" y="598" width="1" height="1" fill="#708090"/>
<rect x="1509" y="598" width="1" height="1" fill="#708090"/>
<rect x="1541" y="598" width="1" height="1" fill="#708090"/>
<rect x="1573" y="598" width="1" height="1" fill="#708090"/>
<rect x="1605" y="598" width="1" height="1" fill="#708090"/>
<rect x="4" y="599" width="1629" height="1" fill="#000"/>
<rect x="4" y="740" width="1629" height="1" fill="#000"/>
<rect x="1633" y="33" width="2" height="1" fill="#000"/>
<rect x="1633" y="66" width="2" height="1" fill="#000"/>
<rect x="1633" y="99" width="2" height="1" fill="#000"/>
<rect x="1633" y="132" width="2" height="1" fill="#000"/>
<rect x="1633" y="165" width="2" height="1" fill="#000"/>
<rect x="1633" y="198" width="2" height="1" fill="#000"/>
<rect x="1633" y="231" width="2" height="1" fill="#000"/>
<rect x="1633" y="264" width="2" height="1" fill="#000"/>
<rect x="1633" y="297" width="2" height="1" fill="#000"/>
<rect x="1633" y="330" width="2" height="1" fill="#000"/>
<rect x="1633" y="363" width="2" height="1" fill="#000"/>
<rect x="1633" y="396" width="2" height="1" fill="#000"/>
<rect x="1633" y="429" width="2" height="1" fill="#000"/>
<rect x="1633" y="462" width="2" height="1" fill="#000"/>
<rect x="1633" y="495" width="2" height="1" fill="#000"/>
<rect x="1633" y="528" width="2" height="1" fill="#000"/>
<rect x="1633" y="561" width="2" height="1" fill="#000"/>
<rect x="1633" y="594" width="2" height="1" fill="#000"/>
<rect x="1633" y="601" width="1" height="1" fill="#000"/>
<rect x="1633" y="684" width="1" height="1" fill="#000"/>
<rect x="1633" y="739" width="1" height="1" fill="#000"/>
<rect x="5" y="741" width="1" height="3" fill="#000"/>
<rect x="69" y="741" width="1" height="3" fill="#000"/>
<rect x="133" y="741" width="1" height="3" fill="#000"/>
<rect x="197" y="741" width="1" height="3" fill="#000"/>
<rect x="261" y="741" width="1" height="3" fill="#000"/>
<rect x="325" y="741" width="1" height="3" fill="#000"/>
<rect x="389" y="741" width="1" height="3" fill="#000"/>
<rect x="453" y="741" width="1" height="3" fill="#000"/>
<rect x="517" y="741" width="1" height="3" fill="#000"/>
<rect x="581" y="741" width="1" height="3" fill="#000"/>
<rect x="645" y="741" width="1" height="3" fill="#000"/>
<rect x="709" y="741" width="1" height="3" fill="#000"/>
<rect x="773" y="741" width="1" height="3" fill="#000"/>
<rect x="837" y="741" width="1" height="3" fill="#000"/>
<rect x="901" y="741" width="1" height="3" fill="#000"/>
<rect x="965" y="741" width="1" height="3" fill="#000"/>
<rect x="1029" y="741" width="1" height="3" fill="#000"/>
<rect x="1093" y="741" width="1" height="3" fill="#000"/>
<rect x="1157" y="741" width="1" height="3" fill="#000"/>
<rect x="1221" y="741" width="1" height="3" fill="#000"/>
<rect x="1285" y="741" width="1" height="3" fill="#000"/>
<rect x="1634" y="77" width="36" height="11" fill="#000"/>
<rect x="1634" y="141" width="36" height="11" fill="#000"/>
<polygon points="8,11 15,11 11.5,15" fill="#000" shape-rendering="auto"/>
</g>
<g fill="#ff0000" stroke="none">
<polygon points="1297.16,144.09 1352.72,28.92 1347.68,26.48 1291.84,141.51"/>
<circle cx="1294.5" cy="142.8" r="2.95"/>
<polygon points="1338.9,23.4 1365.4,-5.3 1360.2,33.5"/>
</g>
<text y="16"><tspan x="19.7" textLength="63.8" lengthAdjust="spacing">CHINA300-,H1</tspan> <tspan x="90.7" textLength="28.3" lengthAdjust="spacing">4157.1</tspan> <tspan x="121.7" textLength="28.3" lengthAdjust="spacing">4161.9</tspan> <tspan x="152.7" textLength="28.3" lengthAdjust="spacing">4137.7</tspan> <tspan x="183.7" textLength="28.3" lengthAdjust="spacing">4147.8</tspan></text>
<text y="612"><tspan x="9.2" textLength="66.3" lengthAdjust="spacing">MACD(12,26,9)</tspan> <tspan x="78.2" textLength="23.3" lengthAdjust="spacing">46.54</tspan> <tspan x="104.2" textLength="23.3" lengthAdjust="spacing">32.43</tspan></text>
<text y="37"><tspan x="1638.2" textLength="28.3" lengthAdjust="spacing">4194.5</tspan></text>
<text y="70"><tspan x="1638.2" textLength="28.3" lengthAdjust="spacing">4163.0</tspan></text>
<text y="103"><tspan x="1638.2" textLength="28.3" lengthAdjust="spacing">4131.5</tspan></text>
<text y="136"><tspan x="1638.2" textLength="28.3" lengthAdjust="spacing">4100.5</tspan></text>
<text y="169"><tspan x="1638.2" textLength="28.3" lengthAdjust="spacing">4069.0</tspan></text>
<text y="202"><tspan x="1638.2" textLength="28.3" lengthAdjust="spacing">4037.5</tspan></text>
<text y="235"><tspan x="1638.2" textLength="28.3" lengthAdjust="spacing">4006.0</tspan></text>
<text y="268"><tspan x="1638.2" textLength="28.3" lengthAdjust="spacing">3974.5</tspan></text>
<text y="301"><tspan x="1638.2" textLength="28.3" lengthAdjust="spacing">3943.0</tspan></text>
<text y="334"><tspan x="1638.2" textLength="28.3" lengthAdjust="spacing">3911.5</tspan></text>
<text y="367"><tspan x="1638.2" textLength="28.3" lengthAdjust="spacing">3880.0</tspan></text>
<text y="400"><tspan x="1638.2" textLength="28.3" lengthAdjust="spacing">3849.0</tspan></text>
<text y="433"><tspan x="1638.2" textLength="28.3" lengthAdjust="spacing">3817.5</tspan></text>
<text y="466"><tspan x="1638.2" textLength="28.3" lengthAdjust="spacing">3786.0</tspan></text>
<text y="499"><tspan x="1638.2" textLength="28.3" lengthAdjust="spacing">3754.5</tspan></text>
<text y="532"><tspan x="1638.2" textLength="28.3" lengthAdjust="spacing">3723.0</tspan></text>
<text y="565"><tspan x="1638.2" textLength="28.3" lengthAdjust="spacing">3691.5</tspan></text>
<text y="598"><tspan x="1638.2" textLength="28.3" lengthAdjust="spacing">3660.0</tspan></text>
<text y="86" class="w"><tspan x="1638.2" textLength="28.3" lengthAdjust="spacing">4147.8</tspan></text>
<text y="150" class="w"><tspan x="1638.2" textLength="28.3" lengthAdjust="spacing">4086.0</tspan></text>
<text y="610"><tspan x="1636.2" textLength="23.3" lengthAdjust="spacing">50.37</tspan></text>
<text y="688"><tspan x="1636.2" textLength="18.3" lengthAdjust="spacing">0.00</tspan></text>
<text y="737"><tspan x="1636.2" textLength="26.8" lengthAdjust="spacing">-33.96</tspan></text>
<text y="753"><tspan x="4.2" textLength="10.3" lengthAdjust="spacing">18</tspan> <tspan x="17.2" textLength="17.3" lengthAdjust="spacing">Nov</tspan> <tspan x="37.2" textLength="20.3" lengthAdjust="spacing">2022</tspan></text>
<text y="753"><tspan x="68.2" textLength="10.3" lengthAdjust="spacing">22</tspan> <tspan x="81.2" textLength="17.3" lengthAdjust="spacing">Nov</tspan> <tspan x="101.2" textLength="23.8" lengthAdjust="spacing">05:00</tspan></text>
<text y="753"><tspan x="132.2" textLength="10.3" lengthAdjust="spacing">24</tspan> <tspan x="145.2" textLength="17.3" lengthAdjust="spacing">Nov</tspan> <tspan x="165.2" textLength="23.8" lengthAdjust="spacing">05:00</tspan></text>
<text y="753"><tspan x="196.2" textLength="10.3" lengthAdjust="spacing">28</tspan> <tspan x="209.2" textLength="17.3" lengthAdjust="spacing">Nov</tspan> <tspan x="229.2" textLength="23.8" lengthAdjust="spacing">05:00</tspan></text>
<text y="753"><tspan x="260.2" textLength="10.3" lengthAdjust="spacing">30</tspan> <tspan x="273.2" textLength="17.3" lengthAdjust="spacing">Nov</tspan> <tspan x="293.2" textLength="23.8" lengthAdjust="spacing">05:00</tspan></text>
<text y="753"><tspan x="324.2" textLength="5.3" lengthAdjust="spacing">2</tspan> <tspan x="332.2" textLength="16.8" lengthAdjust="spacing">Dec</tspan> <tspan x="351.7" textLength="23.8" lengthAdjust="spacing">05:00</tspan></text>
<text y="753"><tspan x="388.2" textLength="5.3" lengthAdjust="spacing">6</tspan> <tspan x="396.2" textLength="16.8" lengthAdjust="spacing">Dec</tspan> <tspan x="415.7" textLength="23.8" lengthAdjust="spacing">05:00</tspan></text>
<text y="753"><tspan x="452.2" textLength="5.3" lengthAdjust="spacing">8</tspan> <tspan x="460.2" textLength="16.8" lengthAdjust="spacing">Dec</tspan> <tspan x="479.7" textLength="23.8" lengthAdjust="spacing">05:00</tspan></text>
<text y="753"><tspan x="516.2" textLength="10.3" lengthAdjust="spacing">12</tspan> <tspan x="529.2" textLength="16.8" lengthAdjust="spacing">Dec</tspan> <tspan x="548.7" textLength="23.8" lengthAdjust="spacing">05:00</tspan></text>
<text y="753"><tspan x="580.2" textLength="10.3" lengthAdjust="spacing">14</tspan> <tspan x="593.2" textLength="16.8" lengthAdjust="spacing">Dec</tspan> <tspan x="612.7" textLength="23.8" lengthAdjust="spacing">05:00</tspan></text>
<text y="753"><tspan x="644.2" textLength="10.3" lengthAdjust="spacing">16</tspan> <tspan x="657.2" textLength="16.8" lengthAdjust="spacing">Dec</tspan> <tspan x="676.7" textLength="23.8" lengthAdjust="spacing">05:00</tspan></text>
<text y="753"><tspan x="708.2" textLength="10.3" lengthAdjust="spacing">20</tspan> <tspan x="721.2" textLength="16.8" lengthAdjust="spacing">Dec</tspan> <tspan x="740.7" textLength="23.8" lengthAdjust="spacing">05:00</tspan></text>
<text y="753"><tspan x="772.2" textLength="10.3" lengthAdjust="spacing">22</tspan> <tspan x="785.2" textLength="16.8" lengthAdjust="spacing">Dec</tspan> <tspan x="804.7" textLength="23.8" lengthAdjust="spacing">05:00</tspan></text>
<text y="753"><tspan x="836.2" textLength="10.3" lengthAdjust="spacing">26</tspan> <tspan x="849.2" textLength="16.8" lengthAdjust="spacing">Dec</tspan> <tspan x="868.7" textLength="23.8" lengthAdjust="spacing">05:00</tspan></text>
<text y="753"><tspan x="900.2" textLength="10.3" lengthAdjust="spacing">28</tspan> <tspan x="913.2" textLength="16.8" lengthAdjust="spacing">Dec</tspan> <tspan x="932.7" textLength="23.8" lengthAdjust="spacing">05:00</tspan></text>
<text y="753"><tspan x="964.2" textLength="10.3" lengthAdjust="spacing">30</tspan> <tspan x="977.2" textLength="16.8" lengthAdjust="spacing">Dec</tspan> <tspan x="996.7" textLength="23.8" lengthAdjust="spacing">05:00</tspan></text>
<text y="753"><tspan x="1028.2" textLength="5.3" lengthAdjust="spacing">4</tspan> <tspan x="1036.2" textLength="14.3" lengthAdjust="spacing">Jan</tspan> <tspan x="1053.2" textLength="23.8" lengthAdjust="spacing">05:00</tspan></text>
<text y="753"><tspan x="1092.2" textLength="5.3" lengthAdjust="spacing">6</tspan> <tspan x="1100.2" textLength="14.3" lengthAdjust="spacing">Jan</tspan> <tspan x="1117.2" textLength="23.8" lengthAdjust="spacing">05:00</tspan></text>
<text y="753"><tspan x="1156.2" textLength="10.3" lengthAdjust="spacing">10</tspan> <tspan x="1169.2" textLength="14.3" lengthAdjust="spacing">Jan</tspan> <tspan x="1186.2" textLength="23.8" lengthAdjust="spacing">05:00</tspan></text>
<text y="753"><tspan x="1220.2" textLength="10.3" lengthAdjust="spacing">12</tspan> <tspan x="1233.2" textLength="14.3" lengthAdjust="spacing">Jan</tspan> <tspan x="1250.2" textLength="23.8" lengthAdjust="spacing">05:00</tspan></text>
<text y="753"><tspan x="1284.2" textLength="10.3" lengthAdjust="spacing">16</tspan> <tspan x="1297.2" textLength="14.3" lengthAdjust="spacing">Jan</tspan> <tspan x="1314.2" textLength="23.8" lengthAdjust="spacing">05:00</tspan></text>
</svg></body></html>
